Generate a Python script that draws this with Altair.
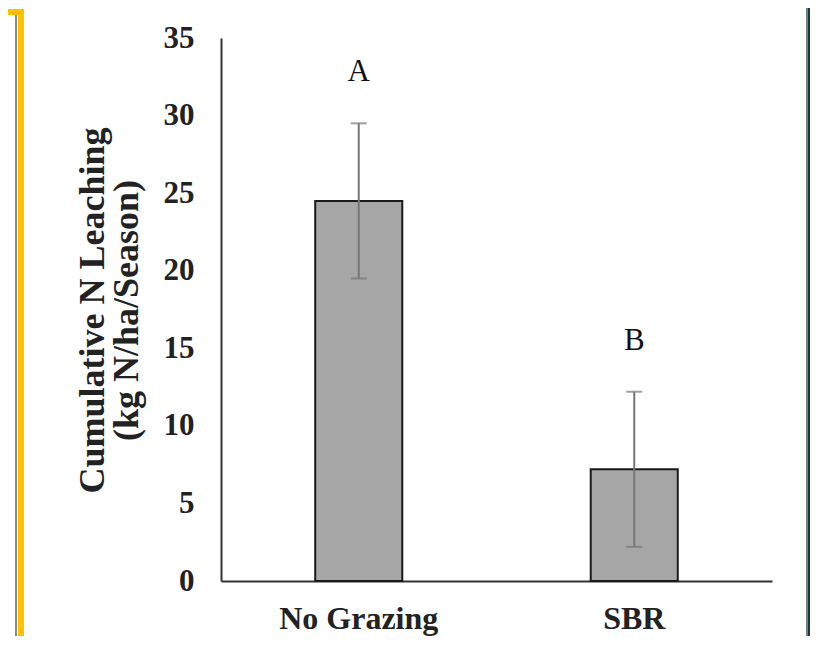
import altair as alt
import pandas as pd

# ---- data ----
categories = ["No Grazing", "SBR"]
means = [24.5, 7.2]
upper = [29.5, 12.2]
lower = [19.5, 2.2]
letters = ["A", "B"]
letter_y = [32.8, 15.5]
y_ticks = [0, 5, 10, 15, 20, 25, 30, 35]

df = pd.DataFrame({
    "cat": categories,
    "mean": means,
    "up": upper,
    "lo": lower,
    "letter": letters,
    "ly": letter_y,
})

FONT = "Liberation Serif"
base = alt.Chart(df)

xscale = alt.Scale(paddingInner=0.684, paddingOuter=0.342)
yscale = alt.Scale(domain=[0, 35], nice=False)

x_axis = alt.Axis(
    title=None, labelAngle=0, labelFont=FONT, labelFontSize=32,
    labelFontWeight="bold", labelColor="#222222", labelPadding=22,
    ticks=False, domainColor="#333333", domainWidth=2, grid=False,
)
y_axis = alt.Axis(
    values=y_ticks, title=["Cumulative N Leaching", "(kg N/ha/Season)"],
    titleFont=FONT, titleFontSize=36, titleFontWeight="bold", titleColor="#222222",
    titleAngle=-90, titleAlign="center", titleBaseline="middle",
    titleX=-129, titleY=272, titleLineHeight=34,
    labelFont=FONT, labelFontSize=31, labelFontWeight="bold", labelColor="#222222",
    labelPadding=27, ticks=False, grid=False,
    domainColor="#333333", domainWidth=2,
)

X = alt.X("cat:N", sort=categories, scale=xscale, axis=x_axis)

bars = base.mark_bar(fill="#a6a6a6", stroke="#1a1a1a", strokeWidth=2).encode(
    x=X,
    y=alt.Y("mean:Q", scale=yscale, axis=y_axis),
)
err = base.mark_rule(color="#777777", strokeWidth=2).encode(
    x=X,
    y=alt.Y("lo:Q", scale=yscale, axis=y_axis),
    y2="up:Q",
)
cap_top = base.mark_tick(color="#777777", thickness=2, size=16).encode(
    x=X,
    y=alt.Y("up:Q", scale=yscale, axis=y_axis),
)
cap_bot = base.mark_tick(color="#777777", thickness=2, size=16).encode(
    x=X,
    y=alt.Y("lo:Q", scale=yscale, axis=y_axis),
)
txt = base.mark_text(font=FONT, fontSize=31, baseline="middle", color="#111111").encode(
    x=X,
    y=alt.Y("ly:Q", scale=yscale, axis=y_axis),
    text="letter:N",
)

# ---- slide frame decorations (pixel positions, not data) ----
deco_src = alt.Data(values=[{"k": 1}])
def deco(x1, x2, y1, y2, color):
    return alt.Chart(deco_src).mark_rect(color=color).encode(
        x=alt.value(x1), x2=alt.value(x2), y=alt.value(y1), y2=alt.value(y2)
    )

frame = [
    deco(587, 589, -30, 600, "#143c3c"),   # dark right border
    deco(585, 587, -30, 600, "#7a8080"),
    deco(-203, -197, -29, 600, "#ffc000"),  # yellow frame
    deco(-213, -197, -29, -23, "#ffc000"),
    deco(-206, -204, -23, 600, "#8a8a8a"),
]

chart = alt.layer(*frame, bars, err, cap_top, cap_bot, txt).properties(
    width=551, height=543,
    autosize=alt.AutoSizeParams(type="none"),
    padding={"left": 213, "top": 30, "right": 38, "bottom": 55},
    background="white",
).configure_view(stroke=None)

chart.save("out.html", embed_options={"renderer": "svg", "actions": False})
